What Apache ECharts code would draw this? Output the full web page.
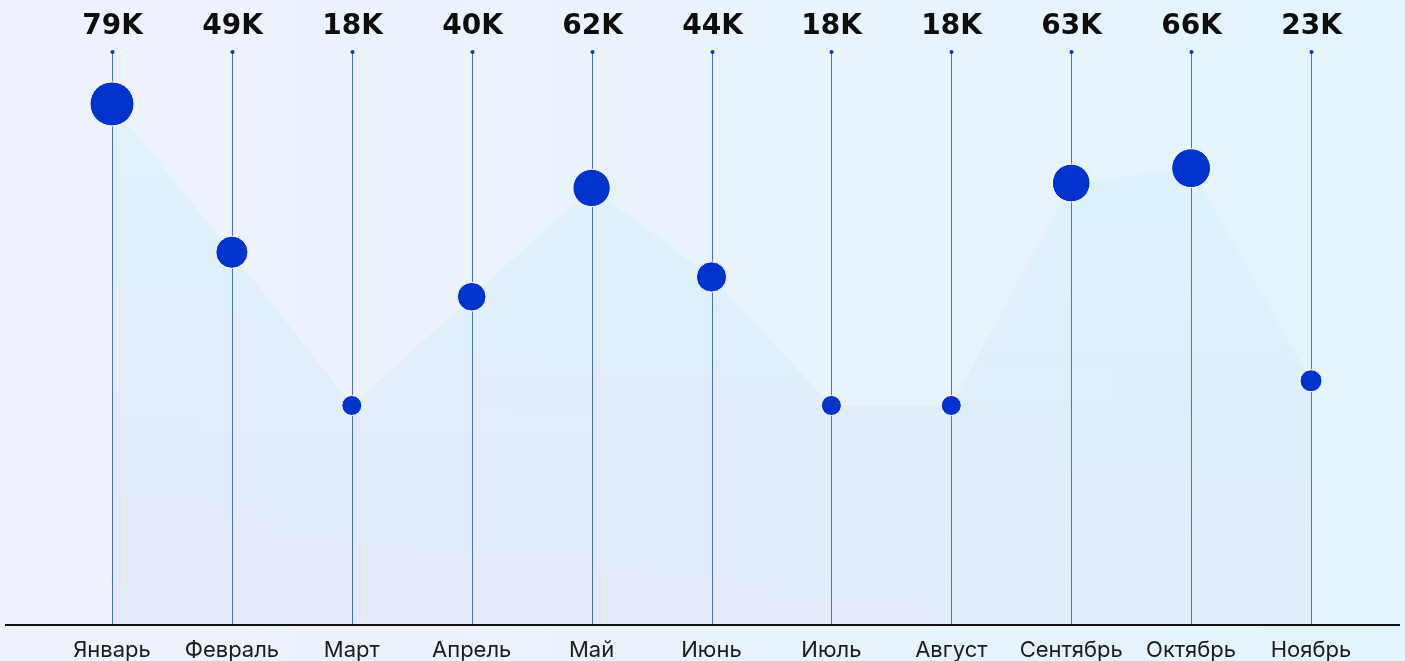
<!DOCTYPE html>
<html>
<head>
<meta charset="utf-8">
<script src="https://cdn.jsdelivr.net/npm/echarts@6/dist/echarts.min.js"></script>
<style>
  html, body { margin: 0; padding: 0; }
  #chart { width: 1405px; height: 661px; }
</style>
</head>
<body>
<div id="chart"></div>
<script>
// Monthly values, in thousands
const months = ['Январь', 'Февраль', 'Март', 'Апрель', 'Май', 'Июнь', 'Июль', 'Август', 'Сентябрь', 'Октябрь', 'Ноябрь'];
const values = [79, 49, 18, 40, 62, 44, 18, 18, 63, 66, 23];

// Value range of the hidden y axis (thousands)
const Y_MIN = -26.2;
const Y_MAX = 89.5;

const minV = Math.min(...values);
const maxV = Math.max(...values);
const dotSize = v => 20 + (v - minV) * 24 / (maxV - minV);
const fmtK = v => v + 'K';

const chart = echarts.init(document.getElementById('chart'));

chart.setOption({
  backgroundColor: new echarts.graphic.LinearGradient(0, 0, 1, 0, [
    { offset: 0, color: '#eff2fc' },
    { offset: 1, color: '#e4f4fc' }
  ]),
  animation: false,
  grid: { left: 112, right: 94, top: 52, bottom: 36 },
  xAxis: {
    type: 'category',
    data: months,
    boundaryGap: false,
    axisLine: { show: false },
    axisTick: { show: false },
    axisLabel: {
      interval: 0,
      margin: 15,
      fontFamily: 'Inter',
      fontSize: 22,
      color: '#1c1c1c'
    },
    splitLine: { show: false }
  },
  yAxis: {
    type: 'value',
    min: Y_MIN,
    max: Y_MAX,
    show: false,
    splitLine: { show: false }
  },
  graphic: [{
    type: 'line',
    shape: { x1: 5, y1: 625, x2: 1400, y2: 625 },
    style: { stroke: '#111111', lineWidth: 2 },
    z: 10
  }],
  series: [
    {
      // filled area under the values
      type: 'line',
      data: values,
      z: 0,
      symbol: 'none',
      lineStyle: { width: 0, opacity: 0 },
      areaStyle: {
        origin: 'start',
        color: new echarts.graphic.LinearGradient(0, 0, 0, 1, [
          { offset: 0, color: 'rgba(214, 243, 252, 0.85)' },
          { offset: 1, color: 'rgba(222, 228, 246, 0.85)' }
        ])
      }
    },
    {
      // stems with value labels on top
      type: 'custom',
      data: values.map((v, i) => [i, v]),
      z: 2,
      renderItem(params, api) {
        const idx = api.value(0);
        const top = api.coord([idx, Y_MAX]);
        const bottom = api.coord([idx, Y_MIN]);
        const x = Math.round(top[0]) + 0.5;
        return {
          type: 'group',
          children: [
            {
              type: 'line',
              shape: { x1: x, y1: top[1], x2: x, y2: bottom[1] },
              style: { stroke: '#4f6fe0', lineWidth: 1 }
            },
            {
              type: 'circle',
              shape: { cx: x, cy: top[1], r: 2 },
              style: { fill: '#0a35c8' }
            },
            {
              type: 'text',
              style: {
                text: fmtK(api.value(1)),
                x: x,
                y: top[1] - 25,
                align: 'center',
                verticalAlign: 'middle',
                font: 'bold 28px "DejaVu Sans"',
                fill: '#0d0d0d'
              }
            }
          ]
        };
      }
    },
    {
      // value dots, sized by value
      type: 'scatter',
      data: values,
      z: 4,
      symbol: 'circle',
      symbolSize: v => dotSize(v),
      itemStyle: { color: '#0033cc', borderColor: '#ffffff', borderWidth: 1, opacity: 1 }
    }
  ]
});
</script>
</body>
</html>
